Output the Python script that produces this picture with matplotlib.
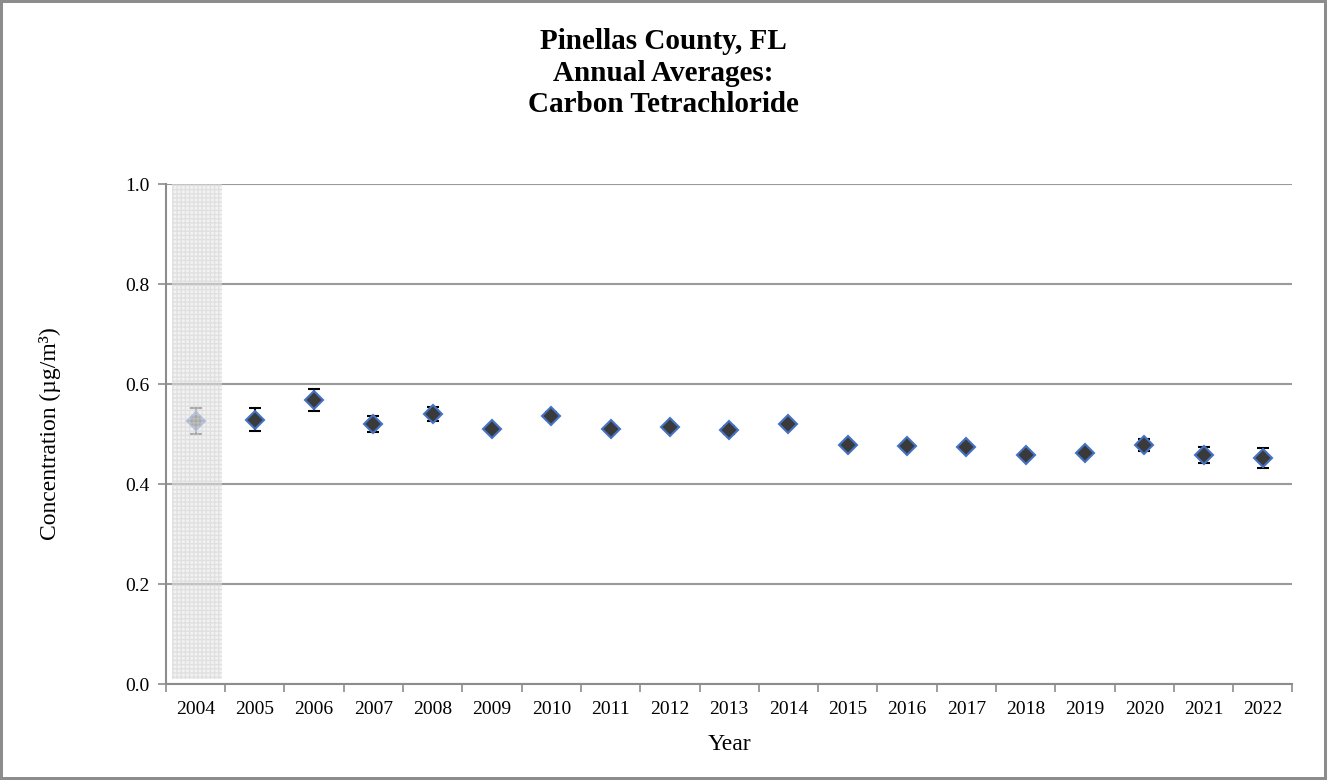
import matplotlib.pyplot as plt
import numpy as np

years = ['2004', '2005', '2006', '2007', '2008', '2009', '2010', '2011', '2012', '2013',
         '2014', '2015', '2016', '2017', '2018', '2019', '2020', '2021', '2022']
means = [0.526, 0.529, 0.568, 0.520, 0.541, 0.510, 0.537, 0.510, 0.515, 0.508,
         0.520, 0.479, 0.476, 0.474, 0.458, 0.463, 0.478, 0.458, 0.452]
errs = [0.026, 0.023, 0.022, 0.016, 0.014, 0.006, 0.007, 0.006, 0.006, 0.008,
        0.004, 0.004, 0.004, 0.004, 0.003, 0.003, 0.012, 0.016, 0.020]

plt.rcParams['font.family'] = ['Liberation Serif', 'DejaVu Serif']

fig = plt.figure(figsize=(13.27, 7.8), dpi=100, linewidth=3, edgecolor='#8c8c8c')
ax = fig.add_axes([0.125, 0.123, 0.849, 0.641])

x = np.arange(len(years))

# regular years
ax.errorbar(x[1:], means[1:], yerr=errs[1:], fmt='D', ms=9.5, mfc='#3a3a3a', mec='#4472c4',
            mew=1.5, ecolor='black', elinewidth=1.5, capsize=4, capthick=1.5, zorder=3)
# first year sits under the shaded band
ax.errorbar(x[:1], means[:1], yerr=errs[:1], fmt='D', ms=9.5, mfc='#6a6a6a', mec='#6f8fcf',
            mew=1.5, ecolor='#666666', elinewidth=1.2, capsize=4, capthick=1.2, zorder=3)
ax.axvspan(-0.4, 0.45, ymin=0.01, ymax=1.0, facecolor='#e6e6e6', edgecolor='#d0d0d0',
           hatch='++++', linewidth=0, alpha=0.5, zorder=4)

ax.set_xlim(-0.5, len(years) - 0.5)
ax.set_ylim(0, 1.0)
ax.set_yticks(np.arange(0, 1.01, 0.2))
ax.set_yticklabels([f'{v:.1f}' for v in np.arange(0, 1.01, 0.2)])
ax.set_xticks(x)
ax.set_xticklabels(years)
ax.set_xticks(np.arange(-0.5, len(years), 1), minor=True)
ax.tick_params(axis='x', which='major', length=0, pad=12, labelsize=14)
ax.tick_params(axis='x', which='minor', length=6, color='#8c8c8c', width=1.2)
ax.tick_params(axis='y', length=6, color='#8c8c8c', width=1.2, labelsize=14, pad=6)

ax.grid(axis='y', color='#9a9a9a', linewidth=1.5, zorder=0)
ax.set_axisbelow(True)
for s in ['top', 'right']:
    ax.spines[s].set_visible(False)
for s in ['left', 'bottom']:
    ax.spines[s].set_color('#8c8c8c')
    ax.spines[s].set_linewidth(1.5)

ax.set_xlabel('Year', fontsize=17, labelpad=12)
ax.set_ylabel('Concentration (µg/m³)', fontsize=17, labelpad=46)

fig.text(0.5, 0.964, 'Pinellas County, FL\nAnnual Averages:\nCarbon Tetrachloride',
         ha='center', va='top', fontsize=21, fontweight='bold', linespacing=1.22)

fig.savefig('out.png', dpi=100, edgecolor=fig.get_edgecolor())
